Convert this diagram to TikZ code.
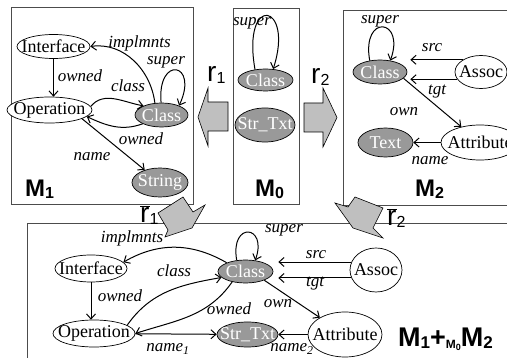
\documentclass[tikz,border=0pt]{standalone}
\usepackage{fontspec}
\setmainfont{Liberation Serif}
\setsansfont{Liberation Sans}
\usetikzlibrary{arrows.meta, shapes.geometric}

% text that does not widen its ellipse
\newcommand{\zw}[1]{\makebox[0pt]{#1}}
% small index set just under the baseline
\newcommand{\dn}[2]{\raisebox{-2pt}{\fontsize{#1}{#1}\selectfont #2}}

\begin{document}
\begin{tikzpicture}[
  x=1pt, y=1pt,
  elem/.style = {ellipse, draw, line width=0.7pt, inner sep=0pt, font=\fontsize{18}{18}\selectfont},
  pale/.style = {elem, fill=white},
  dark/.style = {elem, fill=gray!80, text=white},
  wh/.style 2 args = {minimum width=#1pt, minimum height=#2pt},
  link/.style = {line width=1pt, -{Straight Barb[length=5pt, width=9pt]}},
  lbl/.style = {font=\itshape\fontsize{17}{17}\selectfont, inner sep=0pt},
  frame/.style = {draw=black!70, line width=0.8pt},
  blockarrow/.style = {draw, fill=gray!50, line width=0.6pt, line join=miter},
  tag/.style = {font=\sffamily\bfseries\fontsize{24}{24}\selectfont, inner sep=0pt, anchor=base west},
  rname/.style = {font=\sffamily\fontsize{28}{28}\selectfont, inner sep=0pt, anchor=base west}
]
\useasboundingbox (0,0) rectangle (507,-358);

% Frames of the four models
\draw[frame] (11,-7) rectangle (193,-204);
\draw[frame] (233,-8) rectangle (299,-204);
\draw[frame] (507,-10) -| (343,-205) -- (507,-205);
\draw[frame] (507,-223) -| (27,-358);

% Block arrows between the models
\draw[blockarrow] (198,-117) -- (208,-88) -- (208,-102) -- (228,-102) -- (228,-131)
  -- (208,-131) -- (208,-146) -- cycle;
\draw[blockarrow] (304,-103) -- (323,-103) -- (323,-88) -- (337,-117.5) -- (323,-147)
  -- (323,-132) -- (304,-132) -- cycle;
\draw[blockarrow] (183,-197) -- (193,-212) -- (205,-205) -- (192,-228) -- (165,-237)
  -- (168,-230) -- (158,-213) -- cycle;
\draw[blockarrow] (355,-197) -- (383,-208) -- (373,-228) -- (383,-238) -- (353,-228)
  -- (335,-203) -- (348,-207) -- cycle;

\node[rname] (rA) at (207,-82) {r\dn{16}{1}};
\node[rname] (rB) at (311,-84) {r\dn{16}{2}};
\node[rname] (rC) at (140,-223) {$\overline{\mbox{r}}$\dn{16}{1}};
\node[rname] (rD) at (387,-226) {$\overline{\mbox{r}}$\dn{16}{2}};

% M_1
\node[pale, wh={73}{24}] (ifA) at (53.5,-46.5) {\zw{Interface}};
\node[pale, wh={85}{26}] (opA) at (49.5,-110) {\zw{Operation}};
\node[dark, wh={53}{24}] (clA) at (161.5,-115) {\zw{Class}};
\node[dark, wh={56}{29}] (strA) at (160,-182.5) {\zw{String}};

\draw[link] (clA.119) to[out=97, in=8] (ifA.east);
\draw[link] (clA.92) .. controls +(95:48) and +(65:48) .. (clA.28);
\draw[link] (ifA.south) -- (ifA.south |- opA.north);
\draw[link] (opA.5) to[out=50, in=170] (clA.153);
\draw[link] (clA.205) to[out=200, in=-25] (opA.-10);
\draw[link] (opA.-15) -- (strA);

\node[lbl] (impA) at (139.5,-43) {implmnts};
\node[lbl] (supA) at (166,-62) {super};
\node[lbl] (ownA) at (80,-76) {owned};
\node[lbl] (clsA) at (128,-86) {class};
\node[lbl] (ownA2) at (141,-139) {owned};
\node[lbl] (namA) at (92,-157) {name};
\node[tag] (tagA) at (25,-197) {M\dn{16}{1}};

% M_0
\node[dark, wh={55}{22}] (clB) at (265.5,-80) {\zw{Class}};
\node[dark, wh={60}{34}] (stB) at (265,-125) {\zw{Str\_Txt}};
\draw[link] (clB.135) .. controls +(100:78) and +(72:70) .. (clB.55);
\node[lbl] (supB) at (252,-23) {super};
\node[tag] (tagB) at (255,-197) {M\dn{16}{0}};

% M_2
\node[dark, wh={54}{24}] (clC) at (380,-72) {\zw{Class}};
\node[pale, wh={52}{33}] (asC) at (481,-72) {\zw{Assoc}};
\node[dark, wh={55}{29}] (txC) at (385.5,-142.5) {\zw{Text}};
\node[pale, wh={78}{35}] (atC) at (480,-142.5) {\zw{Attribute}};

\draw[link] (clC.132) .. controls +(100:48) and +(70:45) .. (clC.48);
\draw[link, shorten >=3pt] (asC.146) -- (asC.146 -| clC.east);
\draw[link, shorten >=3pt] (asC.197) -- (asC.197 -| clC.east);
\draw[link] (clC.-15) -- (atC);
\draw[link] (atC) -- (txC);

\node[lbl] (supC) at (380,-21) {super};
\node[lbl] (srcC) at (432,-48) {src};
\node[lbl] (tgtC) at (437,-92) {tgt};
\node[lbl] (ownC) at (404,-112) {own};
\node[lbl] (namC) at (430,-161) {name};
\node[tag] (tagC) at (415,-197) {M\dn{16}{2}};

% merged model
\node[pale, wh={72}{27}] (ifD) at (91,-268.5) {\zw{Interface}};
\node[pale, wh={82}{27}] (opD) at (94,-333.5) {\zw{Operation}};
\node[dark, wh={55}{23}] (clD) at (245.5,-271.5) {\zw{Class}};
\node[dark, wh={61}{25}] (stD) at (247.5,-334.5) {\zw{Str\_Txt}};
\node[pale, wh={52}{44}] (asD) at (376,-270) {\zw{Assoc}};
\node[pale, wh={74}{45}] (atD) at (345,-334.5) {\zw{Attribute}};

\draw[link] (clD.155) to[out=150, in=30] (ifD.11);
\draw[link] (clD.128) .. controls +(100:40) and +(70:38) .. (clD.49);
\draw[link] (ifD.south) -- (ifD.south |- opD.north);
\draw[link] (opD.14) to[out=55, in=190] (clD.194);
\draw[link] (clD.218) to[out=235, in=18] (opD.east);
\draw[link] (opD) -- (stD);
\draw[link, shorten >=5pt] (asD.162) -- (asD.162 -| clD.east);
\draw[link, shorten >=5pt] (asD.198) -- (asD.198 -| clD.east);
\draw[link] (clD.-25) -- (atD);
\draw[link] (atD) -- (stD);

\node[lbl] (impD) at (132,-238) {implmnts};
\node[lbl] (supD) at (284,-230) {super};
\node[lbl] (ownD) at (120,-296) {owned};
\node[lbl] (clsD) at (174,-271) {class};
\node[lbl] (ownD2) at (229,-309) {owned};
\node[lbl] (namD) at (168,-349) {name\textsubscript{1}};
\node[lbl] (srcD) at (316,-255) {src};
\node[lbl] (tgtD) at (315,-284) {tgt};
\node[lbl] (ownD3) at (278,-304) {own};
\node[lbl] (namD2) at (292,-349) {name\textsubscript{2}};
\node[tag, font=\sffamily\bfseries\fontsize{27}{27}\selectfont] (tagD) at (398,-347)
  {M\dn{17}{1}+\dn{12}{M\dn{9}{0}}M\dn{17}{2}};

\end{tikzpicture}
\end{document}
